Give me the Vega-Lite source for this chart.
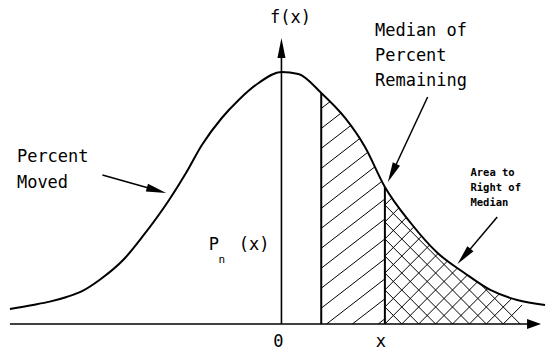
{
  "$schema": "https://vega.github.io/schema/vega-lite/v6.json",
  "width": 549,
  "height": 350,
  "padding": 0,
  "autosize": {"type": "fit", "contains": "padding"},
  "background": "white",
  "config": {"view": {"stroke": null}},
  "datasets": {
    "curve": [
      {"x": -2.73, "y": 0.0238}, {"x": -2.5, "y": 0.0302}, {"x": -2.33, "y": 0.0355},
      {"x": -2.16, "y": 0.0429}, {"x": -2.0, "y": 0.0525}, {"x": -1.83, "y": 0.0698},
      {"x": -1.58, "y": 0.1035}, {"x": -1.4, "y": 0.1381},
      {"x": -1.13, "y": 0.1968}, {"x": -0.96, "y": 0.2397}, {"x": -0.8, "y": 0.2841},
      {"x": -0.6, "y": 0.327}, {"x": -0.43, "y": 0.3556}, {"x": -0.23, "y": 0.3825},
      {"x": 0, "y": 0.4}, {"x": 0.17, "y": 0.3968}, {"x": 0.4, "y": 0.3667},
      {"x": 0.64, "y": 0.327}, {"x": 0.84, "y": 0.281}, {"x": 1.04, "y": 0.2175},
      {"x": 1.3, "y": 0.1603}, {"x": 1.57, "y": 0.1127}, {"x": 1.84, "y": 0.081},
      {"x": 2.1, "y": 0.054}, {"x": 2.37, "y": 0.0381}, {"x": 2.65, "y": 0.0302}
    ],
    "hatch": [
      {"x": 0.973, "y": 0, "x2": 1.04, "y2": 0.0082},
      {"x": 0.713, "y": 0, "x2": 1.04, "y2": 0.0399},
      {"x": 0.454, "y": 0, "x2": 1.04, "y2": 0.0716},
      {"x": 0.4, "y": 0.0251, "x2": 1.04, "y2": 0.1033},
      {"x": 0.4, "y": 0.0568, "x2": 1.04, "y2": 0.135},
      {"x": 0.4, "y": 0.0885, "x2": 1.04, "y2": 0.1667},
      {"x": 0.4, "y": 0.1202, "x2": 1.04, "y2": 0.1984},
      {"x": 0.4, "y": 0.1519, "x2": 1.04, "y2": 0.2301},
      {"x": 0.4, "y": 0.1836, "x2": 1.04, "y2": 0.2618},
      {"x": 0.4, "y": 0.2153, "x2": 1.04, "y2": 0.2935},
      {"x": 0.4, "y": 0.247, "x2": 1.04, "y2": 0.3252},
      {"x": 0.4, "y": 0.2787, "x2": 1.04, "y2": 0.3569},
      {"x": 0.4, "y": 0.3104, "x2": 1.04, "y2": 0.3886},
      {"x": 0.4, "y": 0.3421, "x2": 1.04, "y2": 0.4203},
      {"x": 1.04, "y": 0.1889, "x2": 2.42, "y2": 0.4079},
      {"x": 1.04, "y": 0.1619, "x2": 2.42, "y2": 0.3809},
      {"x": 1.04, "y": 0.1349, "x2": 2.42, "y2": 0.3539},
      {"x": 1.04, "y": 0.1079, "x2": 2.42, "y2": 0.3269},
      {"x": 1.04, "y": 0.0809, "x2": 2.42, "y2": 0.2999},
      {"x": 1.04, "y": 0.054, "x2": 2.42, "y2": 0.273},
      {"x": 1.04, "y": 0.027, "x2": 2.42, "y2": 0.246},
      {"x": 1.04, "y": 0, "x2": 2.42, "y2": 0.219},
      {"x": 1.21, "y": 0, "x2": 2.42, "y2": 0.192},
      {"x": 1.38, "y": 0, "x2": 2.42, "y2": 0.165},
      {"x": 1.55, "y": 0, "x2": 2.42, "y2": 0.1381},
      {"x": 1.72, "y": 0, "x2": 2.42, "y2": 0.1111},
      {"x": 1.89, "y": 0, "x2": 2.42, "y2": 0.0841},
      {"x": 2.06, "y": 0, "x2": 2.42, "y2": 0.0571},
      {"x": 2.23, "y": 0, "x2": 2.42, "y2": 0.0302},
      {"x": 1.04, "y": 0.027, "x2": 1.21, "y2": 0},
      {"x": 1.04, "y": 0.054, "x2": 1.38, "y2": 0},
      {"x": 1.04, "y": 0.0809, "x2": 1.55, "y2": 0},
      {"x": 1.04, "y": 0.1079, "x2": 1.72, "y2": 0},
      {"x": 1.04, "y": 0.1349, "x2": 1.89, "y2": 0},
      {"x": 1.04, "y": 0.1619, "x2": 2.06, "y2": 0},
      {"x": 1.04, "y": 0.1889, "x2": 2.23, "y2": 0},
      {"x": 1.04, "y": 0.2158, "x2": 2.4, "y2": 0}
    ],
    "verticals": [
      {"x": 0.4, "y": 0, "y2": 0.3667},
      {"x": 1.04, "y": 0, "y2": 0.2175}
    ],
    "axes": [
      {"x": -2.73, "y": 0, "x2": 2.54, "y2": 0},
      {"x": 0, "y": 0, "x2": 0, "y2": 0.4381}
    ],
    "pointers": [
      {"x": -1.8, "y": 0.2365, "x2": -1.256, "y2": 0.2122},
      {"x": 1.47, "y": 0.3603, "x2": 1.113, "y2": 0.2397},
      {"x": 2.17, "y": 0.1698, "x2": 1.835, "y2": 0.1073}
    ],
    "bigLeft": [
      {"x": 0.94, "y": 0.4651, "text": "Median of"},
      {"x": 0.94, "y": 0.4254, "text": "Percent"},
      {"x": 0.94, "y": 0.3857, "text": "Remaining"},
      {"x": -2.66, "y": 0.2651, "text": "Percent"},
      {"x": -2.66, "y": 0.2238, "text": "Moved"},
      {"x": -0.43, "y": 0.1254, "text": "(x)"}
    ],
    "bigCenter": [
      {"x": 0.09, "y": 0.4857, "text": "f(x)"},
      {"x": -0.68, "y": 0.1254, "text": "P"},
      {"x": -0.03, "y": -0.0286, "text": "0"},
      {"x": 1.0, "y": -0.0286, "text": "x"}
    ],
    "small": [
      {"x": 1.9, "y": 0.2397, "text": "Area to"},
      {"x": 1.9, "y": 0.2159, "text": "Right of"},
      {"x": 1.9, "y": 0.1921, "text": "Median"}
    ],
    "sub": [
      {"x": -0.6, "y": 0.1016, "text": "n"}
    ]
  },
  "encoding": {
    "x": {"field": "x", "type": "quantitative", "scale": {"domain": [-2.83, 2.66], "nice": false, "zero": false}, "axis": null},
    "y": {"field": "y", "type": "quantitative", "scale": {"domain": [-0.0413, 0.5143], "nice": false, "zero": false}, "axis": null}
  },
  "layer": [
    {
      "data": {"name": "hatch"},
      "mark": {"type": "rule", "color": "black", "strokeWidth": 1},
      "encoding": {"x2": {"field": "x2"}, "y2": {"field": "y2"}}
    },
    {
      "data": {"name": "curve"},
      "mark": {"type": "area", "color": "white", "opacity": 1, "interpolate": "monotone"},
      "encoding": {"y2": {"datum": 0.5143}}
    },
    {
      "data": {"name": "curve"},
      "mark": {"type": "line", "color": "black", "strokeWidth": 2, "interpolate": "monotone"},
      "encoding": {}
    },
    {
      "data": {"name": "verticals"},
      "mark": {"type": "rule", "color": "black", "strokeWidth": 2},
      "encoding": {"y2": {"field": "y2"}}
    },
    {
      "data": {"name": "axes"},
      "mark": {"type": "rule", "color": "black", "strokeWidth": 1.6},
      "encoding": {"x2": {"field": "x2"}, "y2": {"field": "y2"}}
    },
    {
      "data": {"name": "pointers"},
      "mark": {"type": "rule", "color": "black", "strokeWidth": 1.5},
      "encoding": {"x2": {"field": "x2"}, "y2": {"field": "y2"}}
    },
    {
      "data": {"values": [{"x": 2.54, "y": 0}]},
      "mark": {"type": "point", "shape": "M0,-1L0.7,1L-0.7,1Z", "size": 196, "filled": true, "color": "black", "opacity": 1, "angle": 90}
    },
    {
      "data": {"values": [{"x": 0, "y": 0.4381}]},
      "mark": {"type": "point", "shape": "M0,-1L0.4,1L-0.4,1Z", "size": 400, "filled": true, "color": "black", "opacity": 1, "angle": 0}
    },
    {
      "data": {"values": [{"x": -1.256, "y": 0.2122}]},
      "mark": {"type": "point", "shape": "M0,-1L0.4,1L-0.4,1Z", "size": 400, "filled": true, "color": "black", "opacity": 1, "angle": 105.7}
    },
    {
      "data": {"values": [{"x": 1.113, "y": 0.2397}]},
      "mark": {"type": "point", "shape": "M0,-1L0.4,1L-0.4,1Z", "size": 400, "filled": true, "color": "black", "opacity": 1, "angle": 205.2}
    },
    {
      "data": {"values": [{"x": 1.835, "y": 0.1073}]},
      "mark": {"type": "point", "shape": "M0,-1L0.4,1L-0.4,1Z", "size": 400, "filled": true, "color": "black", "opacity": 1, "angle": 220.4}
    },
    {
      "data": {"name": "bigLeft"},
      "mark": {"type": "text", "font": "DejaVu Sans Mono", "fontSize": 17, "align": "left", "baseline": "middle", "color": "black"},
      "encoding": {"text": {"field": "text"}}
    },
    {
      "data": {"name": "bigCenter"},
      "mark": {"type": "text", "font": "DejaVu Sans Mono", "fontSize": 17, "align": "center", "baseline": "middle", "color": "black"},
      "encoding": {"text": {"field": "text"}}
    },
    {
      "data": {"name": "small"},
      "mark": {"type": "text", "font": "DejaVu Sans Mono", "fontSize": 10.5, "fontWeight": "bold", "align": "left", "baseline": "middle", "color": "black"},
      "encoding": {"text": {"field": "text"}}
    },
    {
      "data": {"name": "sub"},
      "mark": {"type": "text", "font": "DejaVu Sans Mono", "fontSize": 11, "align": "center", "baseline": "middle", "color": "black"},
      "encoding": {"text": {"field": "text"}}
    }
  ]
}
